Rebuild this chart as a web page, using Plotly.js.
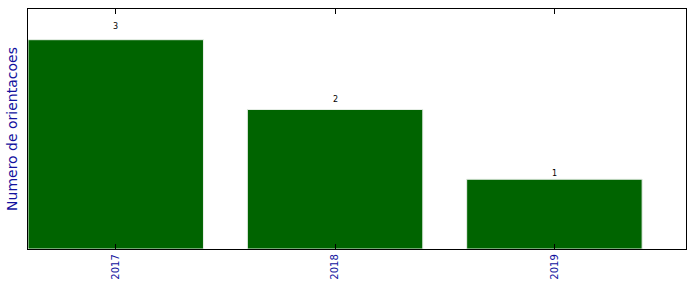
<!DOCTYPE html>
<html>
<head>
<meta charset="utf-8">
<script src="https://cdn.plot.ly/plotly-3.0.1.min.js"></script>
<style>html,body{margin:0;padding:0;background:#fff;}#chart{width:696px;height:292px;}</style>
</head>
<body>
<div id="chart"></div>
<script>
const years = ['2017', '2018', '2019'];
const counts = [3, 2, 1];
const labels = ['3', '2', '1'];

const trace = {
  type: 'bar',
  x: years,
  y: counts,
  width: 0.8,
  marker: {color: '#006400', line: {color: '#e8efe8', width: 1}},
  hoverinfo: 'none'
};

const annotations = years.map((yr, i) => ({
  x: i, y: counts[i] * 1.05, text: labels[i], showarrow: false,
  xref: 'x', yref: 'y', yanchor: 'bottom', yshift: -4,
  font: {family: 'DejaVu Sans', size: 8, color: '#000'}
}));

const layout = {
  width: 696, height: 292,
  margin: {l: 28, r: 10, t: 9, b: 43, pad: 0},
  paper_bgcolor: '#fff', plot_bgcolor: '#fff',
  showlegend: false,
  bargap: 0,
  xaxis: {
    type: 'category',
    range: [-0.4, 2.6],
    showline: true, linecolor: '#000', linewidth: 1.2, mirror: 'ticks',
    ticks: 'inside', ticklen: 5, tickcolor: '#000', tickwidth: 1,
    tickangle: -90,
    tickfont: {family: 'DejaVu Sans', size: 10, color: '#12129e'},
    showgrid: false, zeroline: false, fixedrange: true
  },
  yaxis: {
    range: [0, 3.44],
    showline: true, linecolor: '#000', linewidth: 1.2, mirror: true,
    ticks: '', showticklabels: false,
    showgrid: false, zeroline: false, fixedrange: true,
    title: {text: 'Numero de orientacoes', standoff: 6,
            font: {family: 'DejaVu Sans', size: 14, color: '#12129e'}}
  },
  annotations: annotations
};

Plotly.newPlot('chart', [trace], layout, {displayModeBar: false, staticPlot: true});
</script>
</body>
</html>
